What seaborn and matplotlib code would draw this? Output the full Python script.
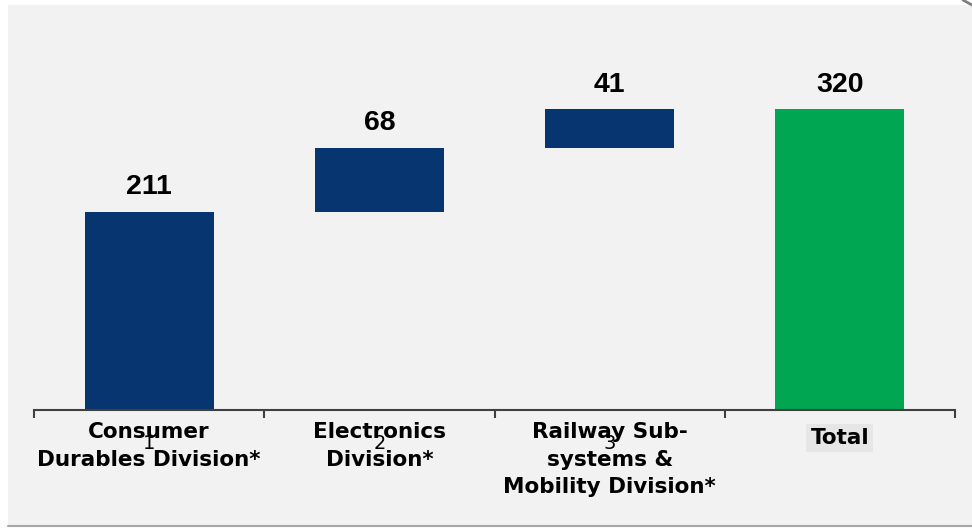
import matplotlib
matplotlib.use("Agg")
import matplotlib.pyplot as plt
import seaborn as sns
import pandas as pd
from matplotlib.patches import Rectangle
from matplotlib.lines import Line2D

# ---- data ----
categories = ["Consumer\nDurables Division*", "Electronics\nDivision*",
              "Railway Sub-\nsystems &\nMobility Division*", "Total"]
values = [211, 68, 41, 320]
value_labels = ["211", "68", "41", "320"]
tick_numbers = ["1", "2", "3", ""]
is_total = [False, False, False, True]

# waterfall bases from running sum
bases = []
run = 0
for v, t in zip(values, is_total):
    if t:
        bases.append(0)
    else:
        bases.append(run)
        run += v

BLUE = "#06356f"
GREEN = "#00a651"

sns.set_theme(style="white")
plt.rcParams['font.family'] = ['DejaVu Sans']

W, H = 972, 528
fig = plt.figure(figsize=(W / 100, H / 100), dpi=100, facecolor="white")
fig.patches.append(Rectangle((8 / W, 3 / H), (W - 8) / W, 520 / H, transform=fig.transFigure,
                             facecolor="#f2f2f2", edgecolor="none", zorder=-5))
fig.lines.append(Line2D([8 / W, 1], [2.5 / H, 2.5 / H], transform=fig.transFigure,
                        color="#a6a6a6", lw=1.5))
fig.lines.append(Line2D([963 / W, 1], [1, 1 - 5 / H], transform=fig.transFigure,
                        color="#7f7f7f", lw=2))

ax = fig.add_axes([34 / W, 1 - 410 / H, (955 - 34) / W, 390 / H])
ax.set_facecolor("none")

df = pd.DataFrame({"cat": categories, "value": values})
palette = [GREEN if t else BLUE for t in is_total]
sns.barplot(data=df, x="cat", y="value", hue="cat", palette=palette, width=0.56,
            dodge=False, legend=False, saturation=1, ax=ax, zorder=2,
            edgecolor="none", linewidth=0)

# float the step bars on their running bases
for p in ax.patches:
    h = p.get_height()
    if h != h:
        continue
    idx = int(round(p.get_x() + p.get_width() / 2))
    p.set_y(bases[idx])
    p.set_height(values[idx])

ax.set_xlim(-0.5, 3.5)
ax.set_ylim(0, 414.6)

for s in ["left", "top", "right"]:
    ax.spines[s].set_visible(False)
ax.spines["bottom"].set_color("#404040")
ax.spines["bottom"].set_linewidth(1.5)
ax.set_yticks([])
ax.set_xlabel("")
ax.set_ylabel("")

ax.set_xticks(range(len(categories)))
ax.set_xticklabels(tick_numbers, fontsize=14, color="black", family="DejaVu Sans",
                   fontweight="normal")
ax.tick_params(axis="x", which="major", bottom=True, length=0, pad=17.5)
ax.set_xticks([i - 0.5 for i in range(len(categories) + 1)], minor=True)
ax.tick_params(axis="x", which="minor", bottom=True, length=6, width=1.5,
               color="#404040", direction="out")

# category labels
for i, cat in enumerate(categories):
    kw = {}
    dy = -9
    if is_total[i]:
        kw["bbox"] = dict(facecolor="#e6e6e6", edgecolor="none", pad=3)
        dy = -13
    ax.annotate(cat, xy=(i, 0), xycoords=("data", "axes fraction"),
                xytext=(0, dy), textcoords="offset points", ha="center", va="top",
                fontsize=15.5, fontweight="bold", color="black", linespacing=1.45,
                zorder=1, **kw)

# value labels
for i, lab in enumerate(value_labels):
    ax.annotate(lab, xy=(i, bases[i] + values[i]), xytext=(0, 12.5),
                textcoords="offset points", ha="center", va="baseline",
                fontsize=20.5, fontweight="bold", color="black", family="Liberation Sans")

fig.savefig("out.png", dpi=100, facecolor=fig.get_facecolor())
